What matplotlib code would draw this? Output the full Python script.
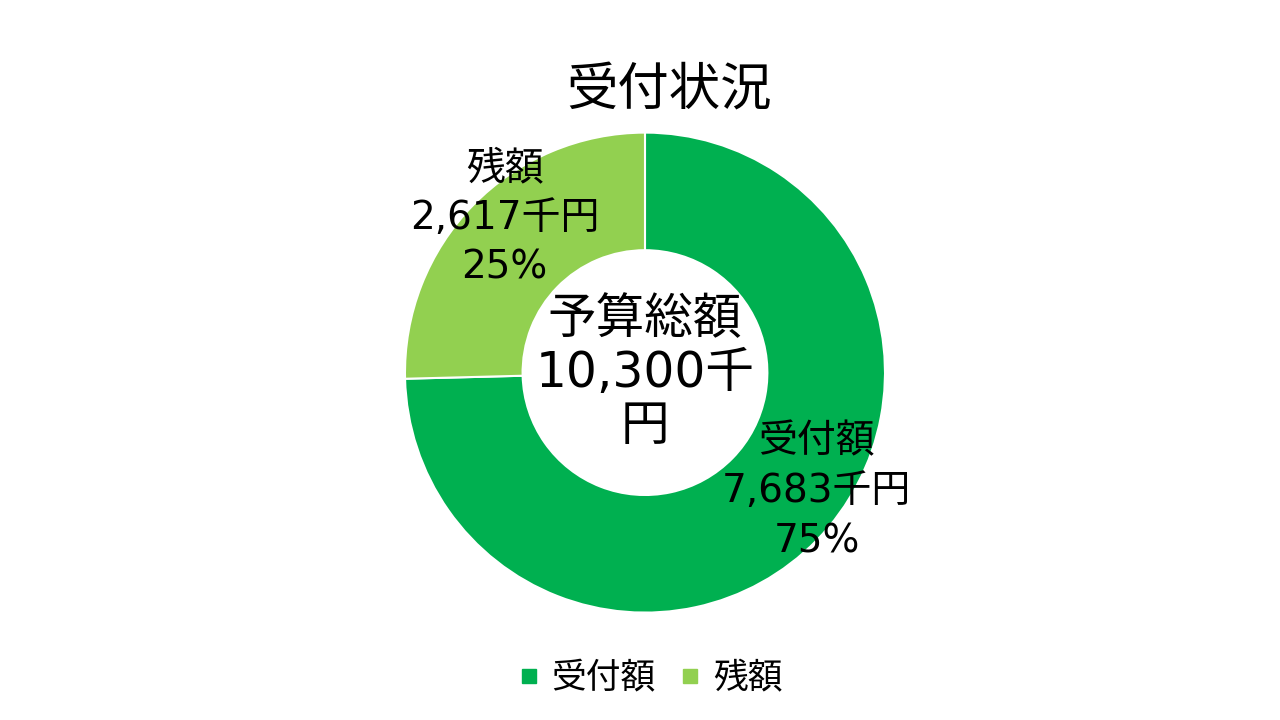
import matplotlib
matplotlib.use("Agg")
import matplotlib.pyplot as plt
from matplotlib.lines import Line2D

# 数字は幅広のDejaVu、漢字はNoto CJK
plt.rcParams['font.family'] = ['DejaVu Sans', 'Noto Sans CJK JP']

# データ
categories = ["受付額", "残額"]
amounts = [7683, 2617]  # 千円
colors = ["#00B050", "#92D050"]
title = "受付状況"
total_label = "予算総額\n10,300千\n円"

total = sum(amounts)
pcts = [round(a / total * 100) for a in amounts]

fig = plt.figure(figsize=(12.8, 7.2), dpi=100)
fig.patch.set_facecolor("white")

# 中心 (645,373) px, 半径 240 px
ax = fig.add_axes([0.3164, 0.149, 0.375, 0.667])
wedges, _ = ax.pie(amounts, colors=colors, startangle=90, counterclock=False,
                   radius=1.0, wedgeprops=dict(width=0.49, edgecolor="white", linewidth=1.5))
ax.set_xlim(-1, 1)
ax.set_ylim(-1, 1)
ax.set_aspect("equal")
ax.axis("off")

# ラベル
label_pos = [(0.715, -0.495), (-0.585, 0.645)]
for (x, y), name, amt, p in zip(label_pos, categories, amounts, pcts):
    ax.text(x, y, f"{name}\n{amt:,}千円\n{p}%", ha="center", va="center",
            fontsize=28, linespacing=1.4, color="black")

ax.text(0.0, 0.0, total_label, ha="center", va="center", fontsize=35,
        linespacing=1.14, color="black")

fig.text(0.523, 1 - 92 / 720, title, ha="center", va="center", fontsize=37)

handles = [Line2D([0], [0], marker="s", linestyle="none", markersize=10,
                  markerfacecolor=c, markeredgecolor=c) for c in colors]
fig.legend(handles, categories, loc="center", bbox_to_anchor=(0.508, 1 - 678 / 720),
           ncol=2, frameon=False, fontsize=25, handlelength=0.6,
           handletextpad=0.35, columnspacing=0.7)

fig.savefig("out.png", dpi=100)
